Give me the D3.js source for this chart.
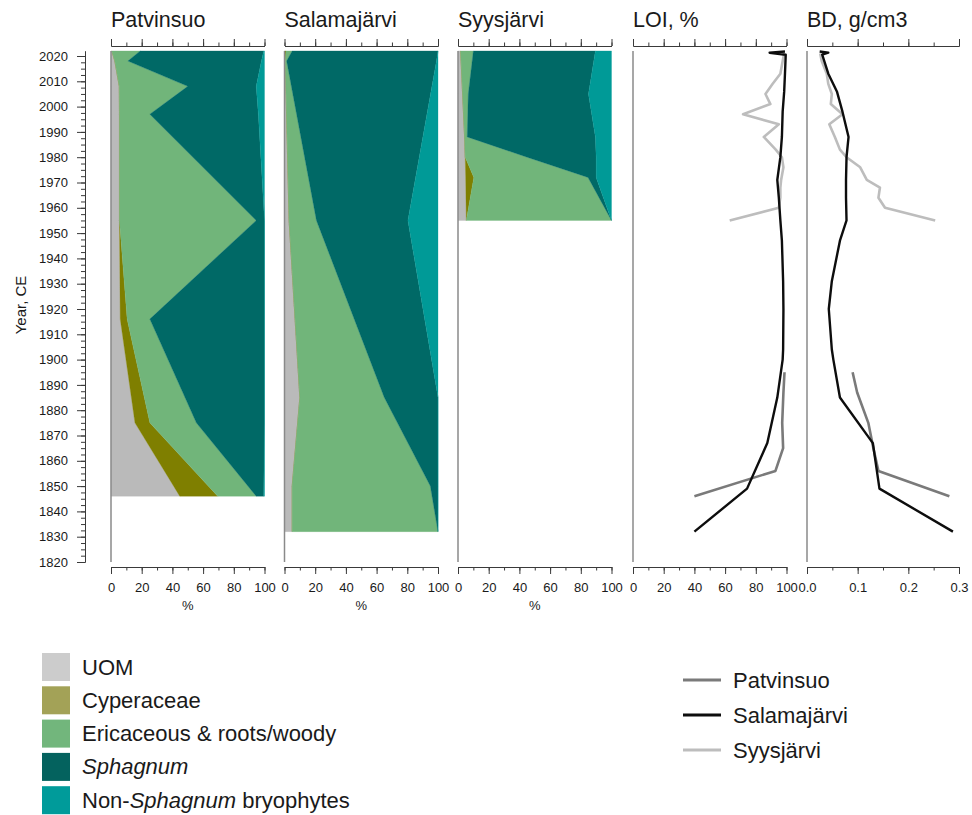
<!DOCTYPE html>
<html><head><meta charset="utf-8">
<script src="https://cdn.jsdelivr.net/npm/d3@7"></script>
<style>
body{margin:0;background:#fff}
text{font-family:"Liberation Sans",Arial,Helvetica,sans-serif;fill:#1a1a1a}
</style>
</head><body>
<svg id="c" width="972" height="815"></svg>
<script>
// ---------- DATA ----------
const taxa = ["UOM","Cyperaceae","Ericaceous","Sphagnum","NonSphagnum"];
const taxaColors = ["#bababa","#7f7f00","#71b57a","#006966","#009a97"];
const legendColors = ["#cccccc","#a3a257","#72b67c","#04625e","#009b9a"];

// Patvinsuo composition (%)
const patYears   = [2022, 2018, 2008, 1997, 1955, 1916, 1875, 1846];
const patUOM     = [0.5, 2.5, 5.4, 5.5, 5.5, 6.0, 15.6, 44.8];
const patCyp     = [0, 0, 0, 0, 0, 4.5, 9.7, 24.7];
const patEric    = [18.5, 8.5, 44.6, 19.8, 89.1, 14.8, 30.3, 25.1];
const patSph     = [80.5, 87, 44.6, 70.7, 5.4, 74.7, 44.4, 4.9];
const patNonSph  = [0.5, 2, 5.4, 4, 0, 0, 0, 0.5];

// Salamajärvi composition (%)
const salYears   = [2022, 2018, 1955, 1885, 1850, 1832];
const salUOM     = [0, 0.5, 3, 10, 5, 5];
const salCyp     = [1, 0, 0, 0, 0, 0];
const salEric    = [4, 0.9, 17.8, 55, 90, 95];
const salSph     = [95, 97.6, 59.6, 35, 5, 0];
const salNonSph  = [0, 1, 19.6, 0, 0, 0];

// Syysjärvi composition (%)
const syyYears   = [2022, 2005, 1988, 1980, 1972, 1955];
const syyUOM     = [1.7, 3, 4.3, 4.7, 5, 5.4];
const syyCyp     = [0, 0, 0, 0, 5.3, 0];
const syyEric    = [8.3, 3.7, 1.7, 40.3, 74.4, 94.6];
const syySph     = [79.5, 78.3, 83.5, 45, 5.3, 0];
const syyNonSph  = [10.5, 15, 10.5, 10, 10, 0];

// LOI (%) and BD (g/cm3)
const patLineYears = [1895, 1887, 1875, 1865, 1856, 1846];
const patLOI       = [98.7, 98, 97.2, 97.8, 92.8, 40];
const patBD        = [0.09, 0.099, 0.121, 0.131, 0.141, 0.281];

const salLineYears = [2021.8, 2021.3, 2020.5, 2013, 2006, 1998, 1988, 1980, 1971, 1964, 1955, 1947, 1931, 1920, 1904, 1900, 1885, 1867, 1849, 1832];
const salLOI       = [99, 89, 99.5, 99, 98.5, 97.5, 97, 96, 94, 95, 96, 97, 97.8, 98, 97.8, 97.5, 94, 87.5, 74.3, 40];
const salBD        = [0.025, 0.042, 0.03, 0.042, 0.059, 0.07, 0.082, 0.078, 0.077, 0.077, 0.078, 0.065, 0.049, 0.043, 0.049, 0.052, 0.065, 0.13, 0.143, 0.288];

const syyLineYears = [2021, 2018, 2013, 2009, 2005, 2001, 1997, 1993, 1988, 1983, 1980, 1976, 1971, 1968, 1964, 1960, 1955];
const syyLOI       = [98.5, 97.5, 96, 91, 86.3, 89.5, 71.7, 95, 85.2, 93, 97, 98, 96.5, 96, 96, 95, 63];
const syyBD        = [0.026, 0.029, 0.039, 0.042, 0.049, 0.047, 0.07, 0.044, 0.055, 0.065, 0.078, 0.105, 0.118, 0.144, 0.141, 0.154, 0.253];

const siteNames  = ["Patvinsuo","Salamajärvi","Syysjärvi"];
const lineColors = ["#7a7a7a","#0d0d0d","#bdbdbd"];
const pctTicks = [0,20,40,60,80,100];
const bdTicks  = [0,0.1,0.2,0.3];
const yearTicks = d3.range(1820, 2021, 10);

// ---------- LAYOUT ----------
const svg = d3.select("#c");
const y = d3.scaleLinear().domain([1820, 2020]).range([562, 56]);
const yTop = y(2022), yBot = y(1820);
const panelW = 153.5;
const panelX = [111, 284.5, 458, 633, 807];
const topAxisY = 46, botAxisY = 567;

function fmtPct(d){ return d3.format("d")(d); }

// y axis
const yAxisScale = d3.scaleLinear().domain([1820, 2022]).range([y(1820), y(2022)]);
const gy = svg.append("g").attr("transform","translate(85,0)");
gy.call(d3.axisLeft(yAxisScale).tickValues(d3.range(1820, 2022.5, 2.5)).tickSize(4).tickSizeOuter(0).tickFormat(""));
gy.append("g").call(d3.axisLeft(yAxisScale).tickValues(yearTicks).tickSize(8).tickSizeOuter(0).tickPadding(9).tickFormat(d3.format("d")));
gy.selectAll("path,line").attr("stroke","#3a3a3a");
gy.selectAll("text").attr("font-size",13).attr("font-family","Liberation Sans, Arial, sans-serif").attr("fill","#1a1a1a");
svg.append("text").attr("transform","translate(26,305) rotate(-90)").attr("text-anchor","middle")
  .attr("font-size",15).text("Year, CE");

function drawAxes(x0, xs, major, minor, labels, fmt, pctLabel){
  const gt = svg.append("g").attr("transform",`translate(0,${topAxisY})`);
  gt.call(d3.axisTop(xs).tickValues(minor).tickSize(3.5).tickSizeOuter(0).tickFormat(""));
  gt.append("g").call(d3.axisTop(xs).tickValues(major).tickSize(7).tickSizeOuter(0).tickFormat(""));
  gt.selectAll("path,line").attr("stroke","#3a3a3a");
  const gb = svg.append("g").attr("transform",`translate(0,${botAxisY})`);
  gb.call(d3.axisBottom(xs).tickValues(minor).tickSize(3.5).tickSizeOuter(0).tickFormat(""));
  gb.append("g").call(d3.axisBottom(xs).tickValues(major).tickSize(7).tickSizeOuter(0).tickPadding(9).tickFormat(fmt));
  gb.selectAll("path,line").attr("stroke","#3a3a3a");
  gb.selectAll("text").attr("font-size",13).attr("font-family","Liberation Sans, Arial, sans-serif").attr("fill","#1a1a1a");
  if(pctLabel){
    svg.append("text").attr("x",(xs.range()[0]+xs.range()[1])/2).attr("y",610)
      .attr("text-anchor","middle").attr("font-size",13).text("%");
  }
}

function buildRows(years, arrs){
  return years.map((yr,i)=>{
    const r = {year: yr};
    taxa.forEach((k,j)=> r[k] = arrs[j][i]);
    return r;
  });
}

const compData = [
  buildRows(patYears, [patUOM, patCyp, patEric, patSph, patNonSph]),
  buildRows(salYears, [salUOM, salCyp, salEric, salSph, salNonSph]),
  buildRows(syyYears, [syyUOM, syyCyp, syyEric, syySph, syyNonSph])
];

const titles = ["Patvinsuo","Salamajärvi","Syysjärvi","LOI, %","BD, g/cm3"];
titles.forEach((t,i)=>{
  svg.append("text").attr("x",panelX[i]).attr("y",27).attr("font-size",21.5).text(t);
});

// composition panels
compData.forEach((rows,i)=>{
  const xs = d3.scaleLinear().domain([0,100]).range([panelX[i], panelX[i]+panelW]);
  const series = d3.stack().keys(taxa)(rows);
  const area = d3.area().y(d=>y(d.data.year)).x0(d=>xs(d[0])).x1(d=>xs(d[1]));
  svg.append("g").selectAll("path").data(series).join("path")
    .attr("d",area).attr("fill",(d,j)=>taxaColors[j]).attr("stroke",(d,j)=>taxaColors[j]).attr("stroke-width",0.3);
  svg.append("line").attr("x1",xs(0)).attr("x2",xs(0)).attr("y1",yTop).attr("y2",yBot)
    .attr("stroke","#8a8a8a").attr("stroke-width",1.5);
  drawAxes(panelX[i], xs, pctTicks, d3.range(0,101,10), true, fmtPct, true);
});

// LOI and BD panels
const xLOI = d3.scaleLinear().domain([0,100]).range([panelX[3], panelX[3]+panelW]);
const xBD  = d3.scaleLinear().domain([0,0.3]).range([panelX[4], panelX[4]+152]);
[xLOI, xBD].forEach(xs=>{
  svg.append("line").attr("x1",xs(0)).attr("x2",xs(0)).attr("y1",yTop).attr("y2",yBot)
    .attr("stroke","#8a8a8a").attr("stroke-width",1.5);
});
drawAxes(panelX[3], xLOI, pctTicks, d3.range(0,101,10), true, fmtPct, false);
drawAxes(panelX[4], xBD, bdTicks, d3.range(0,0.301,0.05), true, d3.format(".1f"), false);

const lineSets = [
  {years: patLineYears, loi: patLOI, bd: patBD, color: lineColors[0], w: 2.6},
  {years: syyLineYears, loi: syyLOI, bd: syyBD, color: lineColors[2], w: 2.6},
  {years: salLineYears, loi: salLOI, bd: salBD, color: lineColors[1], w: 2.4}
];
lineSets.forEach(s=>{
  const ptsL = s.years.map((yr,i)=>({year:yr, v:s.loi[i]}));
  const ptsB = s.years.map((yr,i)=>({year:yr, v:s.bd[i]}));
  svg.append("path").attr("d", d3.line().x(d=>xLOI(d.v)).y(d=>y(d.year))(ptsL))
    .attr("fill","none").attr("stroke",s.color).attr("stroke-width",s.w).attr("stroke-linejoin","round");
  svg.append("path").attr("d", d3.line().x(d=>xBD(d.v)).y(d=>y(d.year))(ptsB))
    .attr("fill","none").attr("stroke",s.color).attr("stroke-width",s.w).attr("stroke-linejoin","round");
});

// ---------- LEGENDS ----------
const lg = svg.append("g");
const legendLabels = [
  [{t:"UOM"}],
  [{t:"Cyperaceae"}],
  [{t:"Ericaceous & roots/woody"}],
  [{t:"Sphagnum", i:true}],
  [{t:"Non-"},{t:"Sphagnum", i:true},{t:" bryophytes"}]
];
legendLabels.forEach((parts,j)=>{
  const cy = 667 + j*33.3;
  lg.append("rect").attr("x",42).attr("y",cy-14).attr("width",28).attr("height",28).attr("fill",legendColors[j]);
  const t = lg.append("text").attr("x",82).attr("y",cy+7.5).attr("font-size",22);
  parts.forEach(p=>{ t.append("tspan").attr("font-style", p.i ? "italic" : "normal").text(p.t); });
});
siteNames.forEach((n,j)=>{
  const cy = 680 + j*35;
  lg.append("line").attr("x1",683).attr("x2",721).attr("y1",cy).attr("y2",cy)
    .attr("stroke",lineColors[j]).attr("stroke-width",3);
  lg.append("text").attr("x",733).attr("y",cy+7.5).attr("font-size",22).text(n);
});
</script>
</body></html>
